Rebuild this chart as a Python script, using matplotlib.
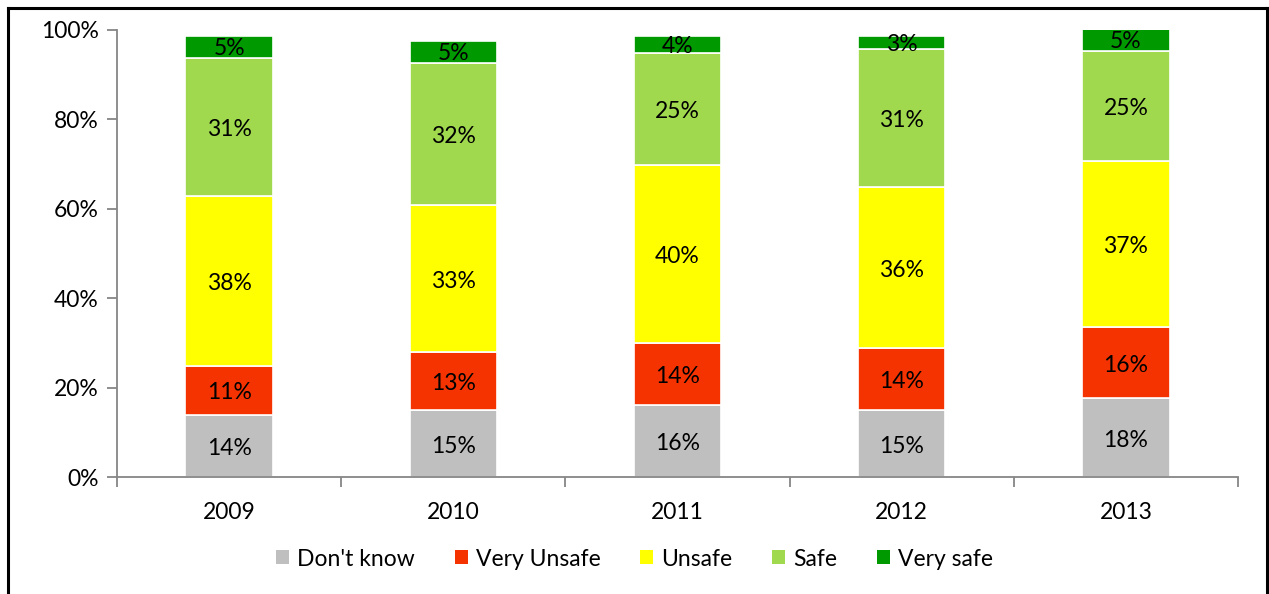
import matplotlib
matplotlib.use("Agg")
import matplotlib.pyplot as plt
import numpy as np

years = ["2009", "2010", "2011", "2012", "2013"]
series = ["Don't know", "Very Unsafe", "Unsafe", "Safe", "Very safe"]
dont_know = [13.9, 15.0, 16.1, 15.0, 17.6]
very_unsafe = [11.0, 13.0, 13.9, 13.9, 15.9]
unsafe = [38.0, 32.8, 39.8, 36.0, 37.3]
safe = [30.9, 31.9, 25.1, 30.8, 24.6]
very_safe = [4.8, 4.8, 3.8, 3.0, 4.8]
yticks = [0, 20, 40, 60, 80, 100]
colors = ["#BFBFBF", "#F53300", "#FFFF00", "#A0D84E", "#009A00"]

plt.rcParams['font.family'] = ['Lato', 'DejaVu Sans']
FS = 16.5

W, H = 1269, 594
fig = plt.figure(figsize=(W / 100, H / 100), dpi=100)
ax = fig.add_axes([117 / W, 1 - 477 / H, (1238 - 117) / W, (477 - 30) / H])

data = [dont_know, very_unsafe, unsafe, safe, very_safe]
x = np.arange(len(years))
bottom = np.zeros(len(years))
handles = []
for vals, col, name in zip(data, colors, series):
    vals = np.array(vals)
    b = ax.bar(x, vals, 0.39, bottom=bottom, color=col, edgecolor="white",
               linewidth=1.2, label=name)
    handles.append(b)
    for xi, v, bt in zip(x, vals, bottom):
        ax.text(xi, bt + v / 2 - (0.4 if v < 6 else 0.6), f"{int(round(v))}%", ha="center",
                va="center", fontsize=FS, color="black")
    bottom += vals

ax.set_xlim(-0.5, len(years) - 0.5)
ax.set_ylim(0, 100)
ax.set_yticks(yticks)
ax.set_yticklabels([f"{t}%" for t in yticks], fontsize=FS)
ax.set_xticks(np.arange(-0.5, len(years), 1.0))
ax.set_xticklabels([])
ax.set_xticks(x, minor=True)
ax.set_xticklabels(years, minor=True, fontsize=FS)
ax.tick_params(axis="x", which="minor", length=0, pad=18)
ax.tick_params(axis="x", which="major", length=7, color="#868686", width=1.3)
ax.tick_params(axis="y", length=7, color="#868686", width=1.3, pad=6)
for s in ["top", "right"]:
    ax.spines[s].set_visible(False)
for s in ["left", "bottom"]:
    ax.spines[s].set_color("#868686")
    ax.spines[s].set_linewidth(1.3)

leg = fig.legend(handles=handles, labels=series, loc="center", ncol=5,
                 bbox_to_anchor=(0.5, 1 - 559 / H), frameon=False, fontsize=FS,
                 handlelength=0.55, handleheight=0.55, handletextpad=0.35,
                 columnspacing=1.75)
for h in leg.legend_handles:
    h.set_edgecolor("none")

# outer frame (left, top, right)
fig.add_artist(plt.Line2D([8 / W, 8 / W], [0, 1 - 8 / H], color="black", lw=2.2,
                          transform=fig.transFigure))
fig.add_artist(plt.Line2D([8 / W, 1267 / W], [1 - 8 / H, 1 - 8 / H], color="black",
                          lw=2.2, transform=fig.transFigure))
fig.add_artist(plt.Line2D([1267 / W, 1267 / W], [0, 1 - 8 / H], color="black", lw=2.2,
                          transform=fig.transFigure))

fig.savefig("out.png", dpi=100)
